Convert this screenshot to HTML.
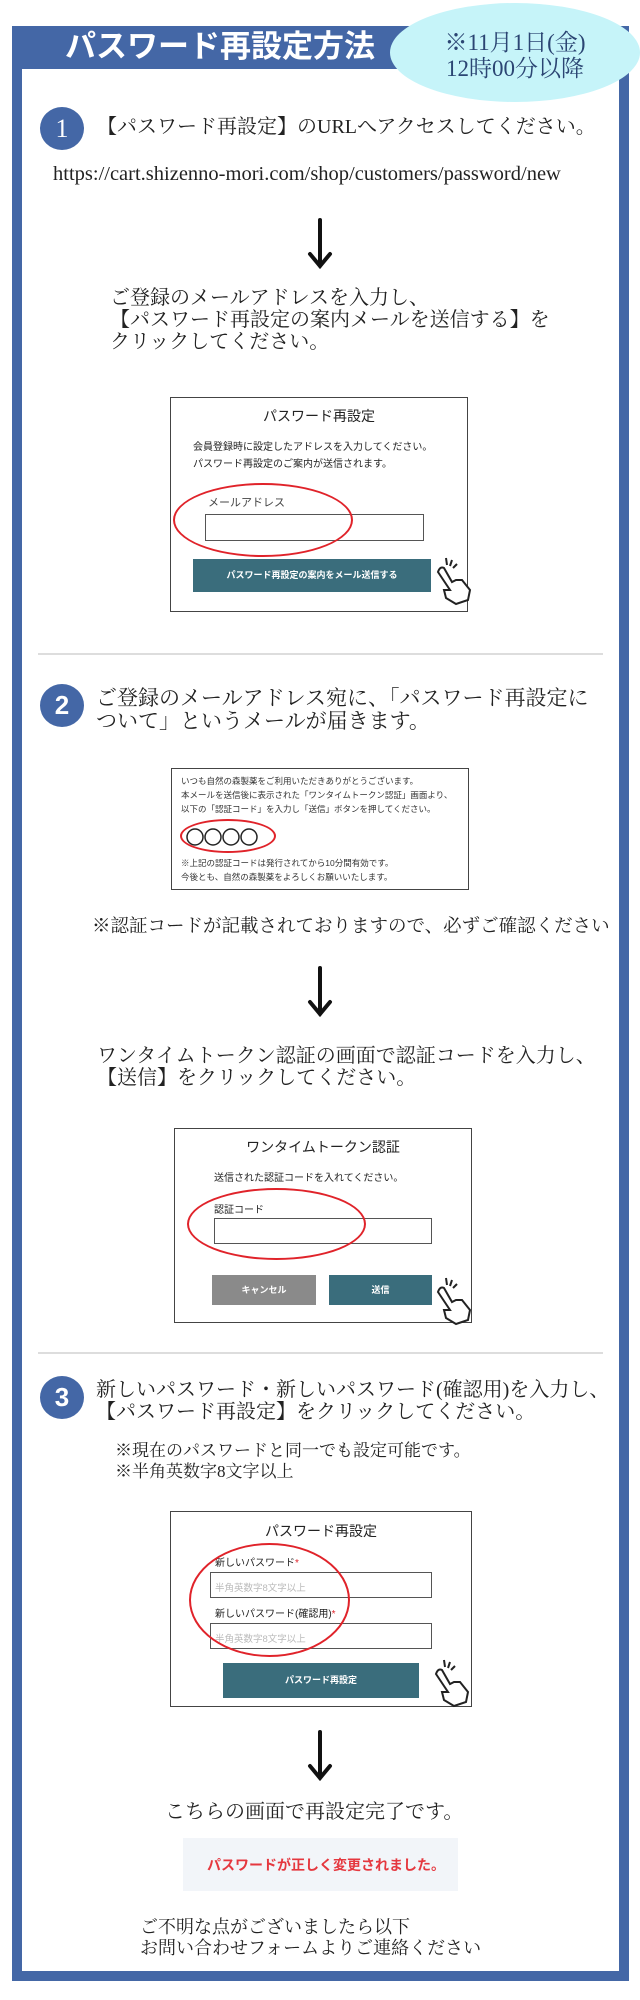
<!DOCTYPE html>
<html><head><meta charset="utf-8"><style>
*{margin:0;padding:0;box-sizing:border-box}
body{width:640px;height:2000px;background:#fff;position:relative;overflow:hidden;font-family:"Liberation Serif","Noto Serif CJK SC",serif;color:#222}
.a{position:absolute;white-space:nowrap}
.s{font-family:"Liberation Sans","Noto Sans CJK JP",sans-serif}
.circ{position:absolute;width:44px;height:43px;border-radius:50%;background:#4467a6;color:#fff;font-size:26px;text-align:center;line-height:43px}
.box{position:absolute;border:1.5px solid #444;background:#fff}
.inp{position:absolute;border:1.5px solid #555;background:#fff}
.ell{position:absolute;border:2px solid #e0232a;border-radius:50%}
.btn{position:absolute;background:#3a6d7c;color:#fff;font-family:"Liberation Sans","Noto Sans CJK JP",sans-serif;font-size:9px;font-weight:bold;text-align:center}
.sep{position:absolute;left:38px;width:565px;height:2px;background:#ddd}
.t{font-size:20px;line-height:22px}
</style></head><body>
<div class="a" style="left:12px;top:26px;width:617px;height:1955px;background:#4467a6"></div>
<div class="a" style="left:22px;top:69px;width:597px;height:1902px;background:#fff"></div>
<div class="a s" style="left:65px;top:27px;font-size:31px;font-weight:bold;color:#fff;line-height:40px">パスワード再設定方法</div>
<div class="a" style="left:390px;top:3px;width:250px;height:99px;border-radius:50%;background:#c6f4f9"></div>
<div class="a" style="left:400px;top:30px;width:230px;text-align:center;font-size:23px;line-height:26px;color:#2b4573">※11月1日(金)<br>12時00分以降</div>

<div class="circ" style="left:40px;top:107px">1</div>
<div class="a t" style="left:97px;top:116px">【パスワード再設定】のURLへアクセスしてください。</div>
<div class="a" style="left:53px;top:163px;font-size:20.5px">https://cart.shizenno-mori.com/shop/customers/password/new</div>
<svg class="a" style="left:305px;top:218px" width="30" height="52"><path d="M15 2 L15 48 M5 36 L15 48 L25 36" stroke="#111" stroke-width="4" fill="none" stroke-linecap="round"/></svg>
<div class="a t" style="left:110px;top:287px">ご登録のメールアドレスを入力し、<br>【パスワード再設定の案内メールを送信する】を<br>クリックしてください。</div>

<div class="box" style="left:170px;top:397px;width:298px;height:215px"></div>
<div class="a s" style="left:170px;top:406px;width:298px;text-align:center;font-size:14px">パスワード再設定</div>
<div class="a s" style="left:193px;top:439px;font-size:10px;line-height:17px">会員登録時に設定したアドレスを入力してください。<br>パスワード再設定のご案内が送信されます。</div>
<div class="a s" style="left:208px;top:494px;font-size:11px;color:#444">メールアドレス</div>
<div class="inp" style="left:205px;top:514px;width:219px;height:27px"></div>
<div class="ell" style="left:173px;top:483px;width:180px;height:74px"></div>
<div class="btn" style="left:193px;top:559px;width:238px;height:33px;line-height:33px">パスワード再設定の案内をメール送信する</div>
<svg class="a" style="left:432px;top:556px" width="40" height="50"><g stroke="#222" stroke-width="2" fill="#fff"><path d="M6 16 L18 34 L12 34 L14 42 L24 48 L36 44 L38 34 L30 24 L24 24 L20 26 L12 12 Q8 10 6 16Z"/><path d="M14 2 L15 9 M20 4 L18 10 M25 8 L21 12" fill="none"/></g></svg>

<div class="sep" style="top:653px"></div>

<div class="circ s" style="left:40px;top:684px;font-weight:bold">2</div>
<div class="a" style="left:96px;top:687px;font-size:21px;line-height:23px">ご登録のメールアドレス宛に、「パスワード再設定に<br>ついて」というメールが届きます。</div>

<div class="box" style="left:171px;top:768px;width:298px;height:122px"></div>
<div class="a s" style="left:181px;top:774px;font-size:8.5px;line-height:14px;color:#333">いつも自然の森製薬をご利用いただきありがとうございます。<br>本メールを送信後に表示された「ワンタイムトークン認証」画面より、<br>以下の「認証コード」を入力し「送信」ボタンを押してください。</div>
<svg class="a" style="left:185px;top:826px" width="90" height="22"><g stroke="#222" stroke-width="1.5" fill="none"><circle cx="10" cy="11" r="8"/><circle cx="28" cy="11" r="8"/><circle cx="46" cy="11" r="8"/><circle cx="64" cy="11" r="8"/></g></svg>
<div class="ell" style="left:180px;top:819px;width:96px;height:34px"></div>
<div class="a s" style="left:181px;top:856px;font-size:8.5px;line-height:14px;color:#333">※上記の認証コードは発行されてから10分間有効です。<br>今後とも、自然の森製薬をよろしくお願いいたします。</div>

<div class="a" style="left:92px;top:912px;font-size:18.5px">※認証コードが記載されておりますので、必ずご確認ください</div>
<svg class="a" style="left:305px;top:966px" width="30" height="52"><path d="M15 2 L15 48 M5 36 L15 48 L25 36" stroke="#111" stroke-width="4" fill="none" stroke-linecap="round"/></svg>
<div class="a t" style="left:97px;top:1045px">ワンタイムトークン認証の画面で認証コードを入力し、<br>【送信】をクリックしてください。</div>

<div class="box" style="left:174px;top:1128px;width:298px;height:195px"></div>
<div class="a s" style="left:174px;top:1137px;width:298px;text-align:center;font-size:14px">ワンタイムトークン認証</div>
<div class="a s" style="left:214px;top:1169px;font-size:10px">送信された認証コードを入れてください。</div>
<div class="a s" style="left:214px;top:1201px;font-size:10px">認証コード</div>
<div class="inp" style="left:214px;top:1218px;width:218px;height:26px"></div>
<div class="ell" style="left:187px;top:1188px;width:179px;height:72px"></div>
<div class="btn" style="left:212px;top:1275px;width:104px;height:30px;line-height:30px;background:#8a8a8a">キャンセル</div>
<div class="btn" style="left:329px;top:1275px;width:103px;height:30px;line-height:30px">送信</div>
<svg class="a" style="left:432px;top:1276px" width="40" height="50"><g stroke="#222" stroke-width="2" fill="#fff"><path d="M6 16 L18 34 L12 34 L14 42 L24 48 L36 44 L38 34 L30 24 L24 24 L20 26 L12 12 Q8 10 6 16Z"/><path d="M14 2 L15 9 M20 4 L18 10 M25 8 L21 12" fill="none"/></g></svg>

<div class="sep" style="top:1352px"></div>

<div class="circ s" style="left:40px;top:1376px;font-weight:bold">3</div>
<div class="a t" style="left:96px;top:1379px">新しいパスワード・新しいパスワード(確認用)を入力し、<br>【パスワード再設定】をクリックしてください。</div>
<div class="a" style="left:115px;top:1440px;font-size:17px;line-height:21px">※現在のパスワードと同一でも設定可能です。<br>※半角英数字8文字以上</div>

<div class="box" style="left:170px;top:1511px;width:302px;height:196px"></div>
<div class="a s" style="left:170px;top:1521px;width:302px;text-align:center;font-size:14px">パスワード再設定</div>
<div class="a s" style="left:215px;top:1554px;font-size:10px">新しいパスワード<span style="color:#e0232a">*</span></div>
<div class="inp" style="left:210px;top:1572px;width:222px;height:26px"></div>
<div class="a s" style="left:215px;top:1580px;font-size:9.5px;color:#bbb">半角英数字8文字以上</div>
<div class="a s" style="left:215px;top:1605px;font-size:10px">新しいパスワード(確認用)<span style="color:#e0232a">*</span></div>
<div class="inp" style="left:210px;top:1623px;width:222px;height:26px"></div>
<div class="a s" style="left:215px;top:1631px;font-size:9.5px;color:#bbb">半角英数字8文字以上</div>
<div class="ell" style="left:189px;top:1543px;width:161px;height:114px"></div>
<div class="btn" style="left:223px;top:1663px;width:196px;height:35px;line-height:35px">パスワード再設定</div>
<svg class="a" style="left:430px;top:1658px" width="40" height="50"><g stroke="#222" stroke-width="2" fill="#fff"><path d="M6 16 L18 34 L12 34 L14 42 L24 48 L36 44 L38 34 L30 24 L24 24 L20 26 L12 12 Q8 10 6 16Z"/><path d="M14 2 L15 9 M20 4 L18 10 M25 8 L21 12" fill="none"/></g></svg>

<svg class="a" style="left:305px;top:1730px" width="30" height="52"><path d="M15 2 L15 48 M5 36 L15 48 L25 36" stroke="#111" stroke-width="4" fill="none" stroke-linecap="round"/></svg>
<div class="a t" style="left:165px;top:1801px">こちらの画面で再設定完了です。</div>
<div class="a" style="left:183px;top:1838px;width:275px;height:53px;background:#f2f5f9"></div>
<div class="a s" style="left:207px;top:1855px;font-size:14px;font-weight:bold;color:#e5383f">パスワードが正しく変更されました。</div>
<div class="a" style="left:140px;top:1917px;font-size:18px;line-height:21px">ご不明な点がございましたら以下<br>お問い合わせフォームよりご連絡ください</div>
</body></html>
